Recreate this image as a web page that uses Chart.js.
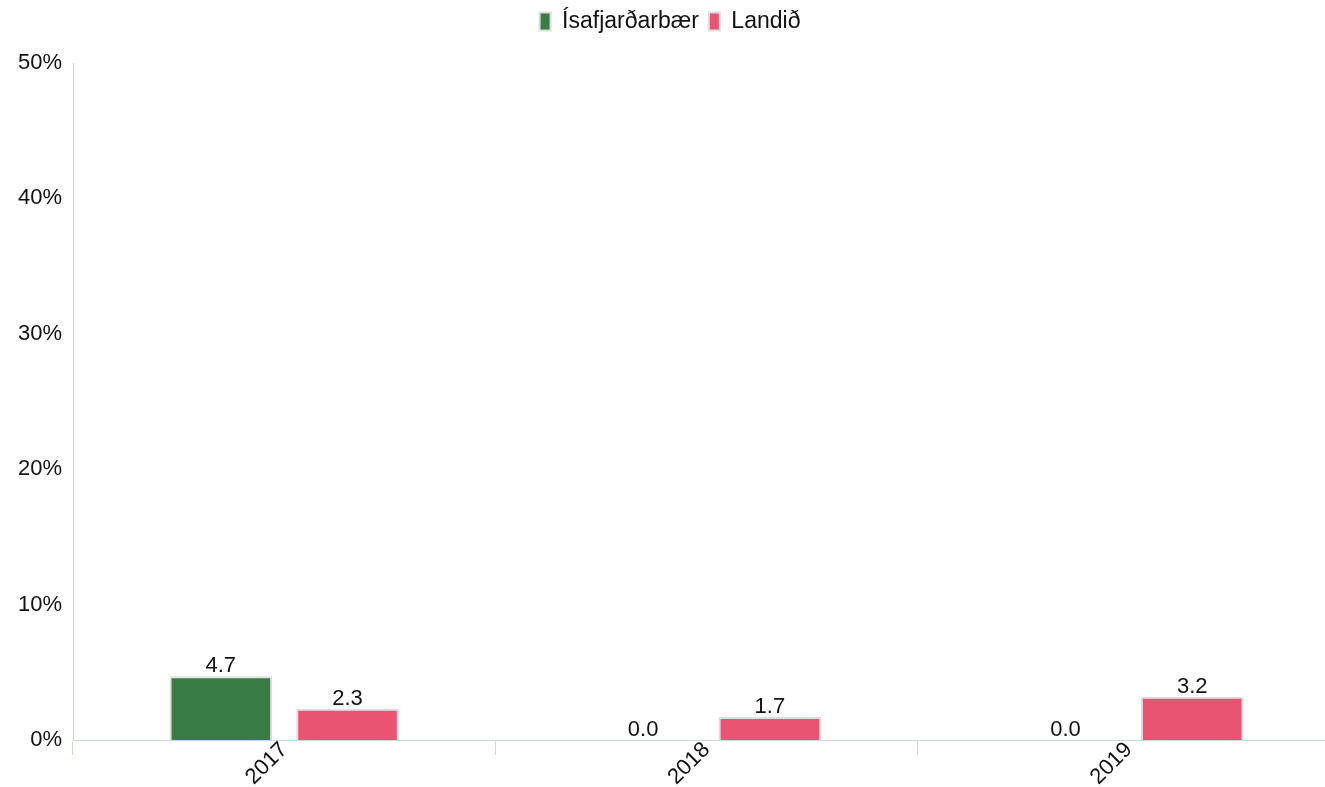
<!DOCTYPE html>
<html>
<head>
<meta charset="utf-8">
<script src="https://cdn.jsdelivr.net/npm/chart.js@4"></script>
<style>
  html, body { margin: 0; padding: 0; background: #fff; overflow: hidden; }
  #wrap { width: 1340px; height: 787px; }
</style>
</head>
<body>
<div id="wrap"><canvas id="chart"></canvas></div>
<script>
document.addEventListener('DOMContentLoaded', function() {

// data
const years = ['2017', '2018', '2019'];
const isafjordur = [4.7, 0.0, 0.0];
const landid = [2.3, 1.7, 3.2];
const seriesNames = ['Ísafjarðarbær', 'Landið'];

const green = '#397d45';
const pink = '#ea5473';

// value labels above bars
const valueLabels = {
  id: 'valueLabels',
  afterDatasetsDraw(chart) {
    const ctx = chart.ctx;
    ctx.save();
    ctx.font = '22px "Liberation Sans", Arial, sans-serif';
    ctx.fillStyle = '#111';
    ctx.textAlign = 'center';
    ctx.textBaseline = 'bottom';
    chart.data.datasets.forEach(function(ds, i) {
      chart.getDatasetMeta(i).data.forEach(function(bar, j) {
        ctx.fillText(ds.data[j].toFixed(1), bar.x, bar.y + 1);
      });
    });
    ctx.restore();
  }
};

// extra space under the legend
const legendGap = {
  id: 'legendGap',
  beforeInit(chart) {
    const fit = chart.legend.fit;
    chart.legend.fit = function() {
      fit.bind(chart.legend)();
      this.height += 20;
    };
  }
};

Chart.defaults.font.family = '"Liberation Sans", Arial, sans-serif';
Chart.defaults.font.size = 22;
Chart.defaults.color = '#111';

new Chart(document.getElementById('chart').getContext('2d'), {
  type: 'bar',
  data: {
    labels: years,
    datasets: [{
      label: seriesNames[0],
      data: isafjordur,
      backgroundColor: green,
      borderColor: '#dedede',
      borderWidth: 2,
      categoryPercentage: 0.6,
      barPercentage: 0.81
    }, {
      label: seriesNames[1],
      data: landid,
      backgroundColor: pink,
      borderColor: '#dedede',
      borderWidth: 2,
      categoryPercentage: 0.6,
      barPercentage: 0.81
    }]
  },
  options: {
    responsive: true,
    maintainAspectRatio: false,
    animation: false,
    layout: { padding: 0 },
    plugins: {
      legend: {
        position: 'top',
        labels: { boxWidth: 11, boxHeight: 18, padding: 10, font: { size: 23 } }
      },
      tooltip: { enabled: false }
    },
    scales: {
      x: {
        afterFit: function(scale) { scale.height = 47; },
        grid: { display: true, drawOnChartArea: false, offset: true, tickLength: 15, color: '#c9d7e8' },
        border: { color: '#c9d7e8' },
        ticks: { maxRotation: 45, minRotation: 45, font: { size: 22 }, padding: -18 }
      },
      y: {
        min: 0,
        max: 50,
        afterFit: function(scale) { scale.width = 73; },
        grid: { display: false },
        border: { color: '#c9d7e8' },
        ticks: { stepSize: 10, font: { size: 22 }, padding: 3, callback: function(v) { return v + '%'; } }
      }
    }
  },
  plugins: [valueLabels, legendGap]
});

}, false);
</script>
</body>
</html>
